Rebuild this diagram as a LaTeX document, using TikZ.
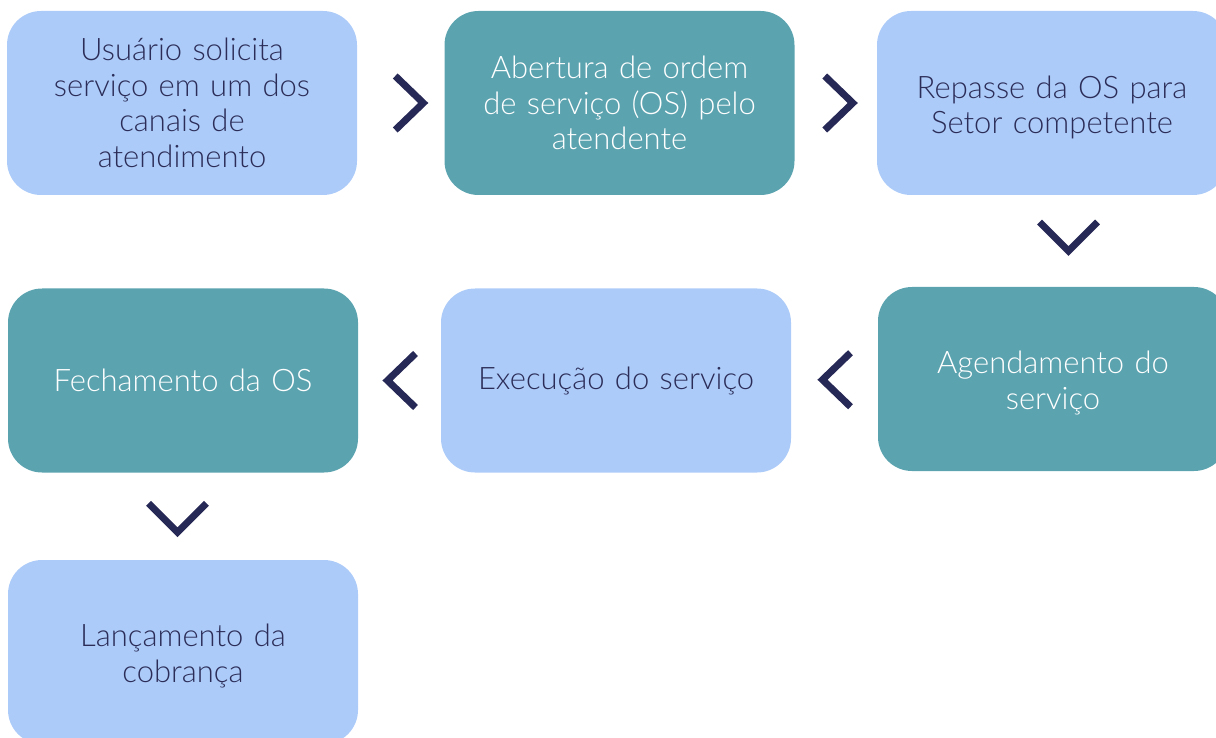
\documentclass[tikz,border=0pt]{standalone}
\usepackage{fontspec}
\setmainfont{Lato Light}
\usetikzlibrary{calc}
\definecolor{lightbox}{HTML}{ADCBF8}
\definecolor{tealbox}{HTML}{5BA3AF}
\definecolor{navytext}{HTML}{2B2D58}
\definecolor{chevcol}{HTML}{262855}
\newcommand{\lowerstrut}{\rule{0pt}{31pt}}
\tikzset{
  box/.style={rectangle, rounded corners=34pt, minimum width=350pt, minimum height=184pt,
    inner sep=0pt, align=center, font=\fontsize{31}{35.5}\selectfont, text width=345pt},
  lightstep/.style={box, fill=lightbox, text=navytext},
  tealstep/.style={box, fill=tealbox, text=white},
  chev/.style={draw=chevcol, line width=7pt, miter limit=10, line join=miter, line cap=butt}
}
\begin{document}
\begin{tikzpicture}[x=1pt,y=-1pt]
\useasboundingbox (0,0) rectangle (1216,738);
\clip (0,0) rectangle (1216,738);
\node[lightstep] (b1) at (182,103) {Usuário solicita\\serviço em um dos\\canais de\\atendimento};
\node[tealstep]  (b2) at (619.5,103) {Abertura de ordem\\de serviço (OS) pelo\\atendente};
\node[lightstep] (b3) at (1052,103) {\lowerstrut Repasse da OS para\\Setor competente};
\node[tealstep]  (b4) at (1053,379) {\lowerstrut Agendamento do\\serviço};
\node[lightstep] (b5) at (616,380.5) {Execução do serviço};
\node[tealstep]  (b6) at (183,380.5) {Fechamento da OS};
\node[lightstep] (b7) at (183,652) {\lowerstrut Lançamento da\\cobrança};
% right chevrons
\coordinate (c12) at ($(b1.east)!0.5!(b2.west)+(9.5,0)$);
\draw[chev] ($(c12)+(-15,-27)$) -- ($(c12)+(13,0)$) -- ($(c12)+(-15,27)$);
\coordinate (c23) at ($(b2.east)!0.5!(b3.west)+(4,0)$);
\draw[chev] ($(c23)+(-15,-27)$) -- ($(c23)+(13,0)$) -- ($(c23)+(-15,27)$);
% down chevron b3 -> b4
\coordinate (c34) at ($(b3.south)!0.5!(b4.north)+(16,-2)$);
\draw[chev] ($(c34)+(-29,-17)$) -- ($(c34)+(0,12)$) -- ($(c34)+(29,-17)$);
% left chevrons
\coordinate (c45) at ($(b4.west)!0.5!(b5.east)+(1,0)$);
\draw[chev] ($(c45)+(15,-27)$) -- ($(c45)+(-13,0)$) -- ($(c45)+(15,27)$);
\coordinate (c56) at ($(b5.west)!0.5!(b6.east)+(1,0)$);
\draw[chev] ($(c56)+(15,-27)$) -- ($(c56)+(-13,0)$) -- ($(c56)+(15,27)$);
% down chevron b6 -> b7
\coordinate (c67) at ($(b6.south)!0.5!(b7.north)+(-5.5,4)$);
\draw[chev] ($(c67)+(-29,-17)$) -- ($(c67)+(0,12)$) -- ($(c67)+(29,-17)$);
\end{tikzpicture}
\end{document}
